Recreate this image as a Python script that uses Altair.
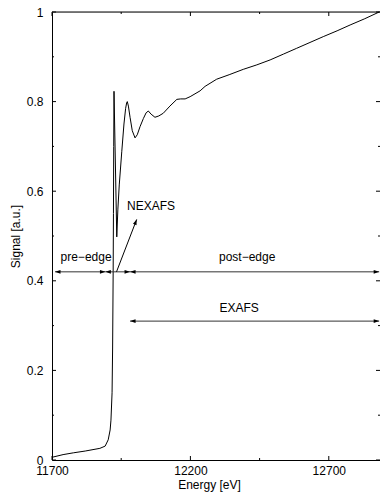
import math
import altair as alt
import pandas as pd

# ---- spectrum ----
energy = [11700, 11740, 11777, 11820, 11873, 11892, 11903, 11910, 11913, 11917,
          11919, 11921, 11922, 11923, 11924, 11934, 11938, 11943, 11952, 11960,
          11966, 11970, 11972, 11976, 11982, 11990, 12000, 12008, 12018, 12030,
          12040, 12048, 12058, 12072, 12086, 12102, 12126, 12151, 12165, 12181,
          12199, 12235, 12253, 12295, 12340, 12391, 12440, 12488, 12536, 12584,
          12632, 12680, 12730, 12777, 12830, 12882]
signal = [0.006, 0.012, 0.016, 0.020, 0.026, 0.031, 0.045, 0.067, 0.089, 0.15,
          0.25, 0.42, 0.55, 0.70, 0.823, 0.498, 0.56, 0.614, 0.688, 0.75,
          0.785, 0.798, 0.800, 0.79, 0.765, 0.735, 0.719, 0.726, 0.744, 0.762,
          0.775, 0.779, 0.772, 0.765, 0.768, 0.774, 0.79, 0.805, 0.806, 0.806,
          0.811, 0.824, 0.834, 0.85, 0.860, 0.872, 0.882, 0.893, 0.906, 0.919,
          0.932, 0.945, 0.958, 0.971, 0.985, 1.0]

# ---- axes ----
x_major = [11700, 12200, 12700]
x_minor = [11950, 12450]
y_major = [0, 0.2, 0.4, 0.6, 0.8, 1.0]
y_minor = [0.1, 0.3, 0.5, 0.7, 0.9]

# ---- range arrows ----
arrow_x1 = [11711, 11893, 11982, 11982]
arrow_x2 = [11893, 11982, 12882, 12882]
arrow_y = [0.42, 0.42, 0.42, 0.31]

# ---- NEXAFS pointer ----
ptr_x = [11933, 12006]
ptr_y = [0.42, 0.537]

# ---- labels ----
label_text = ["pre\u2212edge", "NEXAFS", "post\u2212edge", "EXAFS"]
label_x = [11823, 12058, 12405, 12376]
label_y = [0.454, 0.567, 0.454, 0.340]

W, H = 328, 448
XMIN, XMAX = 11700, 12885
FONT = "Liberation Sans"

xs = alt.Scale(domain=[XMIN, XMAX], nice=False, zero=False)
ys = alt.Scale(domain=[0, 1], nice=False, zero=False)

spec_df = pd.DataFrame({"e": energy, "s": signal})

line = alt.Chart(spec_df).mark_line(color="black", strokeWidth=1).encode(
    x=alt.X("e:Q", scale=xs,
            axis=alt.Axis(values=x_major, format="d", title="Energy [eV]", grid=False,
                          ticks=False, tickSize=0, labelPadding=5,
                          labelFontSize=12, labelColor="black", labelFont=FONT,
                          domainColor="black", domainWidth=1,
                          titleFont=FONT, titleFontSize=12, titleFontWeight="normal",
                          titleColor="black", titleX=157, titleY=28,
                          titleBaseline="alphabetic", titleAlign="center",
                          labelFlush=False, labelOverlap=False)),
    y=alt.Y("s:Q", scale=ys,
            axis=alt.Axis(values=y_major, format="~g", title="Signal [a.u.]",
                          grid=False, ticks=False, tickSize=0, labelPadding=9,
                          labelFontSize=12, labelColor="black", labelFont=FONT,
                          domainColor="black", domainWidth=1,
                          titleFont=FONT, titleFontSize=12, titleFontWeight="normal",
                          titleColor="black", titleX=-37, titleY=H / 2,
                          titleAngle=270, titleBaseline="middle", titleAlign="center",
                          labelFlush=False, labelOverlap=False)),
    order=alt.Order("e:Q"),
)

# top border
top_border = alt.Chart(pd.DataFrame({"a": [0]})).mark_rule(color="black", strokeWidth=1).encode(
    x=alt.value(0), x2=alt.value(W), y=alt.value(0)
)

# inward ticks
xt_df = pd.DataFrame({"t": x_major + x_minor,
                      "len": [4] * len(x_major) + [2] * len(x_minor)})
yt_df = pd.DataFrame({"t": y_major + y_minor,
                      "len": [4] * len(y_major) + [2] * len(y_minor)})


def xtick(y0, y1, ln):
    return alt.Chart(xt_df).mark_rule(color="black", strokeWidth=1).encode(
        x=alt.X("t:Q", scale=xs),
        y=alt.value(y0), y2=alt.value(y1),
    ).transform_filter(f"datum.len == {ln}")


def ytick(x0, x1, ln):
    return alt.Chart(yt_df).mark_rule(color="black", strokeWidth=1).encode(
        y=alt.Y("t:Q", scale=ys),
        x=alt.value(x0), x2=alt.value(x1),
    ).transform_filter(f"datum.len == {ln}")


ticks = [xtick(H, H - 4, 4), xtick(H, H - 2, 2), xtick(0, 4, 4), xtick(0, 2, 2),
         ytick(0, 4, 4), ytick(0, 2, 2), ytick(W, W - 4, 4), ytick(W, W - 2, 2)]

# range arrows
arr_df = pd.DataFrame({"x1": arrow_x1, "x2": arrow_x2, "y": arrow_y})
arr_lines = alt.Chart(arr_df).mark_rule(color="#333333", strokeWidth=1).encode(
    x=alt.X("x1:Q", scale=xs), x2="x2:Q",
    y=alt.Y("y:Q", scale=ys),
)
RIGHT_HEAD = "M0,0 L-2,-0.7 L-2,0.7 Z"
LEFT_HEAD = "M0,0 L2,-0.7 L2,0.7 Z"
head_r = alt.Chart(arr_df).mark_point(shape=RIGHT_HEAD, filled=True, size=30,
                                      color="black", opacity=1, strokeWidth=0).encode(
    x=alt.X("x2:Q", scale=xs), y=alt.Y("y:Q", scale=ys))
head_l = alt.Chart(arr_df).mark_point(shape=LEFT_HEAD, filled=True, size=30,
                                      color="black", opacity=1, strokeWidth=0).encode(
    x=alt.X("x1:Q", scale=xs), y=alt.Y("y:Q", scale=ys))

# NEXAFS pointer
ptr_df = pd.DataFrame({"x1": [ptr_x[0]], "x2": [ptr_x[1]], "y1": [ptr_y[0]], "y2": [ptr_y[1]]})
px_per_x = W / (XMAX - XMIN)
dx = (ptr_x[1] - ptr_x[0]) * px_per_x
dy = (ptr_y[1] - ptr_y[0]) * H
ang = 360 - math.degrees(math.atan2(dy, dx))
ptr_line = alt.Chart(ptr_df).mark_rule(color="black", strokeWidth=1).encode(
    x=alt.X("x1:Q", scale=xs), x2="x2:Q",
    y=alt.Y("y1:Q", scale=ys), y2="y2:Q",
)
ptr_head = alt.Chart(ptr_df).mark_point(shape=RIGHT_HEAD, filled=True, size=30,
                                        color="black", opacity=1, strokeWidth=0,
                                        angle=ang).encode(
    x=alt.X("x2:Q", scale=xs), y=alt.Y("y2:Q", scale=ys))

# labels
lab_df = pd.DataFrame({"t": label_text, "x": label_x, "y": label_y})
labels = alt.Chart(lab_df).mark_text(font=FONT, fontSize=12, color="black",
                                     align="center", baseline="middle").encode(
    x=alt.X("x:Q", scale=xs), y=alt.Y("y:Q", scale=ys),
    text="t:N",
)

chart = alt.layer(
    line, arr_lines, head_r, head_l, ptr_line, ptr_head, labels,
    *ticks, top_border,
).properties(
    width=W, height=H,
    padding={"left": 52, "top": 12, "right": 0, "bottom": 34},
    autosize=alt.AutoSizeParams(type="none"),
    background="white",
).configure_view(strokeWidth=0).configure(font=FONT)

chart.save("out.html", embed_options={"renderer": "svg", "actions": False})
